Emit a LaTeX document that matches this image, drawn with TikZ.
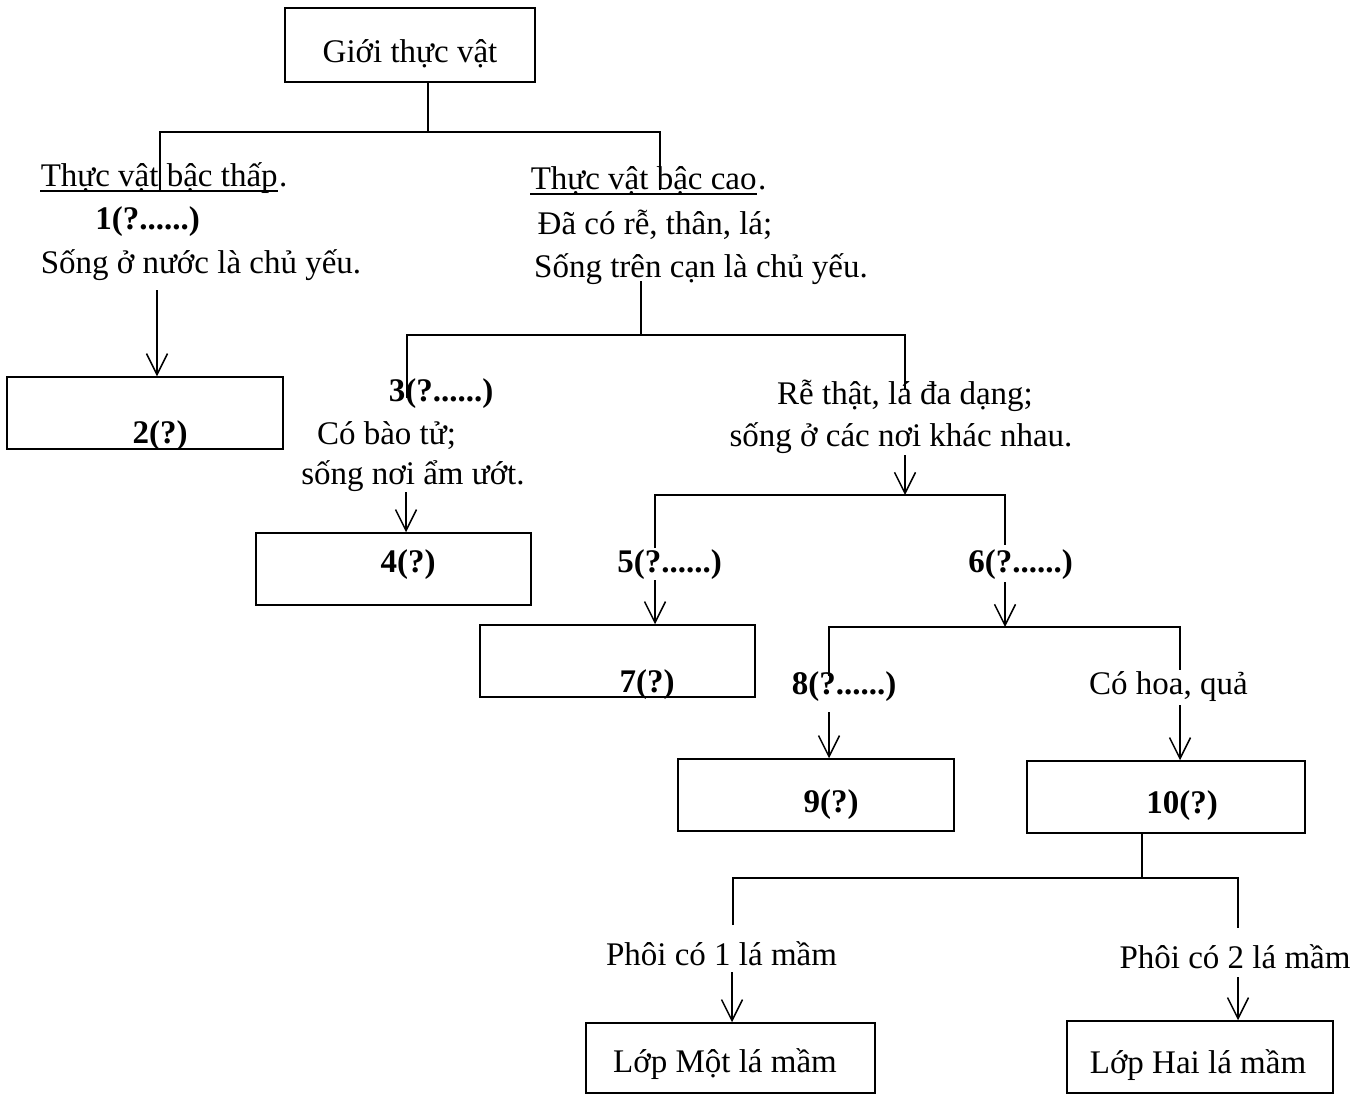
\documentclass[tikz,border=0pt]{standalone}
\usepackage{fontspec}
\setmainfont{Liberation Serif}
\usetikzlibrary{arrows.meta}
\begin{document}
\begin{tikzpicture}[x=1pt,y=-1pt,line width=1.5pt,
  box/.style={draw,line width=1.5pt,inner sep=0,minimum width=#1},
  box/.default=276pt,
  txt/.style={inner sep=0,anchor=base,font=\fontsize{33}{40}\selectfont},
  txtw/.style={txt,anchor=base west},
  btxt/.style={txt,font=\fontsize{33}{40}\selectfont\bfseries},
  arr/.style={-{Straight Barb[length=21pt,width=21pt,line width=1.5pt]}},
  ul/.style={line width=1.3pt}]
\useasboundingbox (0,0) rectangle (1365,1095);

% boxes
\node[box=250pt,minimum height=74pt] (g) at (410,45) {};
\node[txt] (gt) at (410,62) {Giới thực vật};
\node[box=276pt,minimum height=72pt] (b2) at (145,413) {};
\node[btxt] (b2t) at (160,443) {2(?)};
\node[box=275pt,minimum height=72pt] (b4) at (393.5,569) {};
\node[btxt] (b4t) at (408,572) {4(?)};
\node[box=275pt,minimum height=72pt] (b7) at (617.5,661) {};
\node[btxt] (b7t) at (647,692) {7(?)};
\node[box=276pt,minimum height=72pt] (b9) at (816,795) {};
\node[btxt] (b9t) at (831,812) {9(?)};
\node[box=278pt,minimum height=72pt] (b10) at (1166,797) {};
\node[btxt] (b10t) at (1182,813) {10(?)};
\node[box=289pt,minimum height=70pt] (bm) at (730.5,1058) {};
\node[txt] (bmt) at (725,1072) {Lớp Một lá mầm};
\node[box=266pt,minimum height=72pt] (bh) at (1200,1057) {};
\node[txt] (bht) at (1198,1073) {Lớp Hai lá mầm};

% texts
\node[txtw] (low) at (40,186) {Thực vật bậc thấp};
\node[txtw] (lowp) at (low.base east) {.};
\draw[ul] ([yshift=-5pt]low.base west) -- ([yshift=-5pt]low.base east);
\node[btxt] (q1) at (147.5,229) {1(?......)};
\node[txt] (low2) at (201,273) {Sống ở nước là chủ yếu.};

\node[txtw] (high) at (530,189) {Thực vật bậc cao};
\node[txtw] (highp) at (high.base east) {.};
\draw[ul] ([yshift=-5pt]high.base west) -- ([yshift=-5pt]high.base east);
\node[txt] (high2) at (655,234) {Đã có rễ, thân, lá;};
\node[txt] (high3) at (701,277) {Sống trên cạn là chủ yếu.};

\node[btxt] (q3) at (441,401) {3(?......)};
\node[txt] (fern1) at (386.5,444) {Có bào tử;};
\node[txt] (fern2) at (413,484) {sống nơi ẩm ướt.};
\node[txt] (root1) at (905,404) {Rễ thật, lá đa dạng;};
\node[txt] (root2) at (901,446) {sống ở các nơi khác nhau.};

\node[btxt] (q5) at (669.5,572) {5(?......)};
\node[btxt] (q6) at (1020.5,572) {6(?......)};
\node[btxt] (q8) at (844,694) {8(?......)};
\node[txt] (flow) at (1168.5,694) {Có hoa, quả};
\node[txt] (p1) at (721.5,965) {Phôi có 1 lá mầm};
\node[txt] (p2) at (1235,968) {Phôi có 2 lá mầm};

% connectors
\coordinate (j1) at (428,132);
\draw ([xshift=18pt]g.south) -- (j1);
\draw (160,190) -- (160,132) -- (660,132) -- (660,190);

\coordinate (a2) at (157,290);
\draw[arr] (a2) -- (b2.north -| a2);

\coordinate (h2s) at (641,281);
\draw (h2s) -- (641,335);
\draw (407,398) -- (407,335) -- (905,335) -- (905,390);

\coordinate (a4) at (406,492);
\draw[arr] (a4) -- (b4.north -| a4);

\coordinate (a5) at (905,455);
\coordinate (j5) at (905,495);
\draw[arr] (a5) -- (j5);
\draw (655,548) -- (655,495) -- (1005,495) -- (1005,545);

\coordinate (a7) at (655,580);
\draw[arr] (a7) -- (b7.north -| a7);

\coordinate (a6) at (1005,582);
\coordinate (j6) at (1005,627);
\draw[arr] (a6) -- (j6);
\draw (829,676) -- (829,627) -- (1180,627) -- (1180,670);

\coordinate (a9) at (829,712);
\draw[arr] (a9) -- (b9.north -| a9);
\coordinate (a10) at (1180,705);
\draw[arr] (a10) -- (b10.north -| a10);

\coordinate (j10) at (1142,878);
\draw (b10.south -| j10) -- (j10);
\draw (733,925) -- (733,878) -- (1238,878) -- (1238,928);

\coordinate (am) at (732,972);
\draw[arr] (am) -- (bm.north -| am);
\coordinate (ah) at (1238,977);
\draw[arr] (ah) -- (bh.north -| ah);
\end{tikzpicture}
\end{document}
